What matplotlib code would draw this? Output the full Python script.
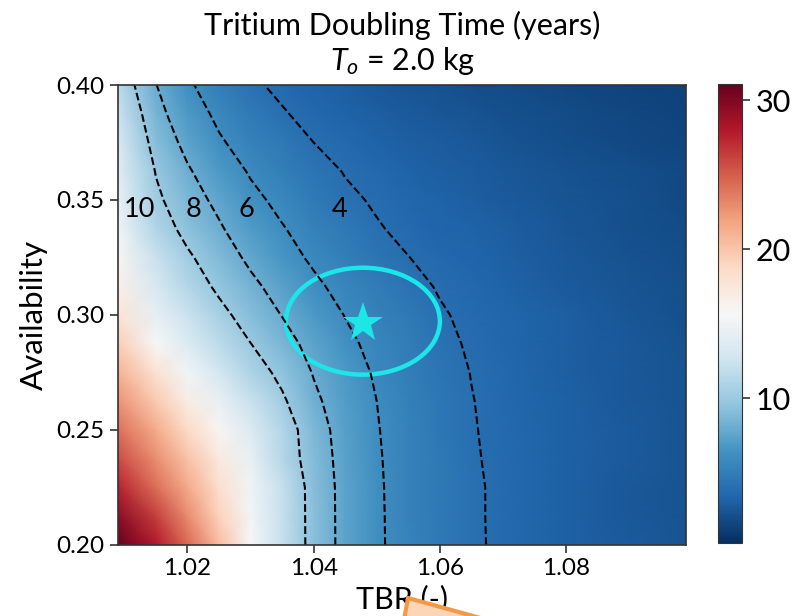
import matplotlib
matplotlib.use('Agg')
import matplotlib.pyplot as plt
import numpy as np
from matplotlib.patches import Ellipse, Polygon
from matplotlib.colors import Normalize

# Grid
tbr = [1.009, 1.015, 1.020, 1.025, 1.030, 1.035, 1.040, 1.045,
       1.050, 1.055, 1.060, 1.065, 1.070, 1.080, 1.090, 1.099]
availability = [0.2000, 0.2125, 0.2250, 0.2375, 0.2500, 0.2625, 0.2750, 0.2875, 0.3000,
                0.3125, 0.3250, 0.3375, 0.3500, 0.3625, 0.3750, 0.3875, 0.4000]

# doubling time (years), one row per availability value
t_double = [
    [31.0, 28.0, 24.5, 20.5, 15.6, 12.15, 9.23, 7.44, 6.23, 5.36, 4.71, 4.19, 3.78, 3.16, 2.71, 2.42],
    [29.5, 26.3, 23.0, 19.3, 15.4, 12.12, 9.22, 7.43, 6.22, 5.35, 4.70, 4.18, 3.77, 3.15, 2.70, 2.42],
    [27.5, 24.3, 21.5, 18.3, 15.2, 12.10, 9.20, 7.42, 6.20, 5.34, 4.70, 4.18, 3.77, 3.15, 2.70, 2.43],
    [25.8, 22.8, 20.2, 17.2, 14.5, 11.30, 9.00, 7.35, 6.15, 5.33, 4.65, 4.12, 3.74, 3.15, 2.72, 2.43],
    [24.2, 21.4, 18.8, 16.0, 13.6, 11.20, 8.80, 7.27, 6.08, 5.30, 4.60, 4.08, 3.70, 3.15, 2.75, 2.43],
    [22.6, 19.7, 16.8, 14.5, 12.3, 10.30, 8.35, 7.05, 6.00, 5.20, 4.55, 4.04, 3.65, 3.10, 2.70, 2.40],
    [21.0, 18.0, 15.2, 13.0, 11.0, 9.50, 7.90, 6.80, 5.80, 5.10, 4.50, 3.97, 3.60, 3.05, 2.65, 2.35],
    [19.5, 15.8, 13.6, 11.7, 10.03, 8.70, 7.40, 6.40, 5.50, 4.90, 4.30, 3.86, 3.52, 3.00, 2.60, 2.30],
    [17.8, 14.3, 12.4, 10.6, 9.10, 7.95, 6.90, 5.95, 5.25, 4.70, 4.12, 3.75, 3.45, 2.95, 2.55, 2.22],
    [16.6, 13.2, 11.2, 9.60, 8.40, 7.30, 6.30, 5.50, 4.90, 4.35, 3.90, 3.55, 3.28, 2.80, 2.42, 2.13],
    [16.0, 12.3, 10.3, 8.90, 7.65, 6.60, 5.75, 5.05, 4.50, 4.02, 3.65, 3.35, 3.10, 2.65, 2.30, 2.05],
    [15.2, 11.1, 9.40, 8.20, 7.00, 6.10, 5.35, 4.65, 4.10, 3.72, 3.42, 3.20, 2.98, 2.55, 2.22, 1.95],
    [14.5, 10.4, 8.75, 7.60, 6.40, 5.60, 4.85, 4.25, 3.85, 3.52, 3.24, 3.00, 2.80, 2.45, 2.15, 1.85],
    [13.9, 9.90, 8.20, 6.90, 5.85, 5.10, 4.50, 3.93, 3.55, 3.28, 3.05, 2.84, 2.65, 2.30, 2.00, 1.75],
    [13.3, 9.20, 7.50, 6.20, 5.30, 4.65, 4.00, 3.60, 3.30, 3.05, 2.85, 2.65, 2.45, 2.07, 1.82, 1.62],
    [12.4, 8.60, 6.85, 5.65, 4.78, 4.10, 3.65, 3.27, 2.98, 2.74, 2.55, 2.37, 2.20, 1.90, 1.66, 1.48],
    [11.5, 8.05, 6.25, 5.10, 4.20, 3.75, 3.30, 2.95, 2.67, 2.44, 2.25, 2.08, 1.94, 1.70, 1.50, 1.35],
]

levels = [4, 6, 8, 10]
level_label_tbr = [1.0441, 1.0293, 1.0209, 1.0124]
level_label_avail = 0.3457

design_tbr = 1.0478
design_avail = 0.2965

plt.rcParams['font.family'] = ['Lato', 'DejaVu Sans']
plt.rcParams['mathtext.fontset'] = 'custom'
plt.rcParams['mathtext.it'] = 'Lato:italic'
plt.rcParams['mathtext.rm'] = 'Lato'

fig = plt.figure(figsize=(8, 6.16), dpi=100)
ax = fig.add_axes([0.1475, 0.1153, 0.71, 0.7467])
cax = fig.add_axes([0.8975, 0.1185, 0.03, 0.745])

X, Y = np.meshgrid(tbr, availability)
Z = np.array(t_double)
norm = Normalize(vmin=0.3, vmax=31.1)
mesh = ax.pcolormesh(X, Y, Z, cmap='RdBu_r', norm=norm, shading='gouraud')
ax.contour(X, Y, Z, levels=levels, colors='k', linestyles='--', linewidths=1.5)

for lev, xl in zip(levels, level_label_tbr):
    ax.text(xl, level_label_avail, str(lev), fontsize=19.5, ha='center', va='center')

ax.add_patch(Ellipse((design_tbr, design_avail + 0.0008), 0.0244, 0.0465,
                     fill=False, edgecolor='#1ce6e8', linewidth=3.2))
ax.plot([design_tbr], [design_avail], marker='*', color='#1ce6e8',
        markersize=30, markeredgewidth=0)

ax.set_xlim(1.009, 1.099)
ax.set_ylim(0.2, 0.4)
ax.set_xticks([1.02, 1.04, 1.06, 1.08])
ax.set_xticklabels(['1.02', '1.04', '1.06', '1.08'])
ax.set_yticks([0.20, 0.25, 0.30, 0.35, 0.40])
ax.set_yticklabels(['0.20', '0.25', '0.30', '0.35', '0.40'])
ax.tick_params(labelsize=17.5, length=6, width=1.2, color='#333333')
for s in ax.spines.values():
    s.set_color('#333333')
    s.set_linewidth(1.2)
ax.set_xlabel('TBR (-)', fontsize=22, labelpad=4)
ax.set_ylabel('Availability', fontsize=22.5, labelpad=6)
ax.set_title('Tritium Doubling Time (years)\n$T_o$ = 2.0 kg', fontsize=22,
             linespacing=1.2, pad=11)

cb = fig.colorbar(mesh, cax=cax)
cb.set_ticks([10, 20, 30])
cb.ax.tick_params(labelsize=22, length=6, width=1.2, color='#333333')
cb.outline.set_edgecolor('#333333')

# orange callout shape poking in at the bottom
W, H = 800.0, 616.0
pts = [(404, 620), (408, 598), (560, 640)]
fig.patches.append(Polygon([(x / W, 1 - y / H) for x, y in pts], closed=True,
                           transform=fig.transFigure, facecolor='#fbd5b5',
                           edgecolor='#f39a48', linewidth=3, zorder=5))

fig.savefig('out.png', dpi=100)
